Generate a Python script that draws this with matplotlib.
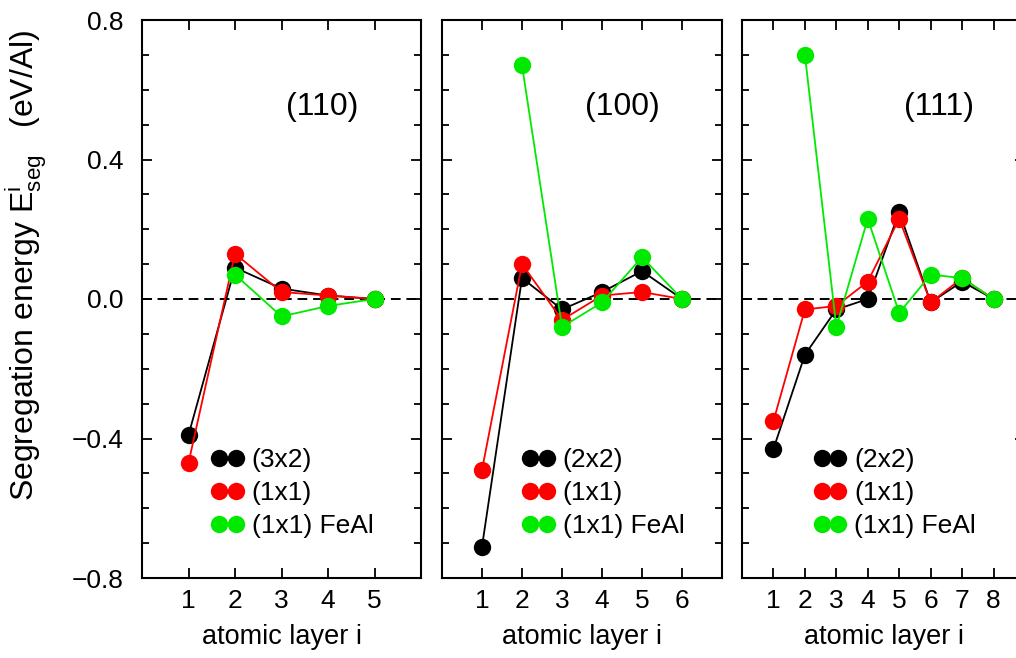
import matplotlib
matplotlib.use("Agg")
import matplotlib.pyplot as plt
from matplotlib.ticker import MultipleLocator

plt.rcParams['font.family'] = ['Liberation Sans', 'DejaVu Sans']
plt.rcParams['mathtext.fontset'] = 'custom'
plt.rcParams['mathtext.rm'] = 'Liberation Sans'
plt.rcParams['mathtext.it'] = 'Liberation Sans:italic'

# (110) surface
layers_110 = [1, 2, 3, 4, 5]
e110_3x2 = [-0.39, 0.09, 0.03, 0.01, 0.00]
e110_1x1 = [-0.47, 0.13, 0.02, 0.01, 0.00]
layers_110_feal = [2, 3, 4, 5]
e110_feal = [0.07, -0.05, -0.02, 0.00]

# (100) surface
layers_100 = [1, 2, 3, 4, 5, 6]
e100_2x2 = [-0.71, 0.06, -0.03, 0.02, 0.08, 0.00]
e100_1x1 = [-0.49, 0.10, -0.06, 0.01, 0.02, 0.00]
layers_100_feal = [2, 3, 4, 5, 6]
e100_feal = [0.67, -0.08, -0.01, 0.12, 0.00]

# (111) surface
layers_111 = [1, 2, 3, 4, 5, 6, 7, 8]
e111_2x2 = [-0.43, -0.16, -0.03, 0.00, 0.25, -0.01, 0.05, 0.00]
e111_1x1 = [-0.35, -0.03, -0.02, 0.05, 0.23, -0.01, 0.06, 0.00]
layers_111_feal = [2, 3, 4, 5, 6, 7, 8]
e111_feal = [0.70, -0.08, 0.23, -0.04, 0.07, 0.06, 0.00]

surface_names = ["(110)", "(100)", "(111)"]
big_cell_names = ["(3x2)", "(2x2)", "(2x2)"]

BLACK = "black"
RED = "#ff0000"
GREEN = "#00ea00"
FS = 19


def draw_panel(ax, layers, big, small, layers_feal, feal, big_name, surf, n_max,
               leg_x, label_x):
    ax.axhline(0, color="black", lw=1.4, ls=(0, (5, 3)), zorder=1)
    style = dict(marker="o", markersize=12.5, lw=1.3, markeredgewidth=0)
    ax.plot(layers, big, color=BLACK, label=big_name, zorder=3, **style)
    ax.plot(layers, small, color=RED, label="(1x1)", zorder=4, **style)
    ax.plot(layers_feal, feal, color=GREEN, label="(1x1) FeAl", zorder=5, **style)

    ax.set_xlim(0, n_max + 1)
    ax.set_ylim(-0.8, 0.8)
    ax.set_xticks(range(1, n_max + 1))
    ax.yaxis.set_major_locator(MultipleLocator(0.4))
    ax.yaxis.set_minor_locator(MultipleLocator(0.1))
    ax.yaxis.set_major_formatter(plt.FuncFormatter(
        lambda v, p: f"{v:.1f}".replace("-", "\u2212")))
    ax.tick_params(which="both", direction="in", top=True, right=True,
                   width=1.3, labelsize=FS)
    ax.tick_params(which="major", length=7.5)
    ax.tick_params(which="minor", length=5)
    ax.tick_params(axis="x", pad=8)
    ax.tick_params(axis="y", pad=13)
    for sp in ax.spines.values():
        sp.set_linewidth(1.5)
    ax.set_xlabel("atomic layer i", fontsize=19.5, labelpad=8)
    ax.text(label_x, 0.844, surf, transform=ax.transAxes, fontsize=23,
            ha="center", va="center")

    leg = ax.legend(loc="upper left", bbox_to_anchor=(leg_x, 0.233),
                    frameon=False, fontsize=FS, numpoints=2, handlelength=1.24,
                    handletextpad=0.3, labelspacing=0.34, borderpad=0,
                    borderaxespad=0)
    for line in leg.get_lines():
        line.set_linewidth(0)


fig = plt.figure(figsize=(10.16, 6.58), dpi=100)
bottom = 1 - 578 / 658
height = 558 / 658
ax1 = fig.add_axes([142 / 1016, bottom, 279 / 1016, height])
ax2 = fig.add_axes([442 / 1016, bottom, 280 / 1016, height])
ax3 = fig.add_axes([742 / 1016, bottom, 283 / 1016, height])

draw_panel(ax1, layers_110, e110_3x2, e110_1x1, layers_110_feal, e110_feal,
           big_cell_names[0], surface_names[0], 5, 0.248, 0.645)
draw_panel(ax2, layers_100, e100_2x2, e100_1x1, layers_100_feal, e100_feal,
           big_cell_names[1], surface_names[1], 6, 0.286, 0.643)
draw_panel(ax3, layers_111, e111_2x2, e111_1x1, layers_111_feal, e111_feal,
           big_cell_names[2], surface_names[2], 8, 0.253, 0.695)

ax2.tick_params(axis="y", labelleft=False)
ax3.tick_params(axis="y", labelleft=False)

fig.text(26 / 1016, 1 - 265 / 658,
         r"Segregation energy $\mathrm{E}^{\mathrm{i}}_{\mathrm{seg}}$   (eV/Al)",
         rotation=90, ha="center", va="center", fontsize=23)

fig.savefig("out.png", dpi=100)
